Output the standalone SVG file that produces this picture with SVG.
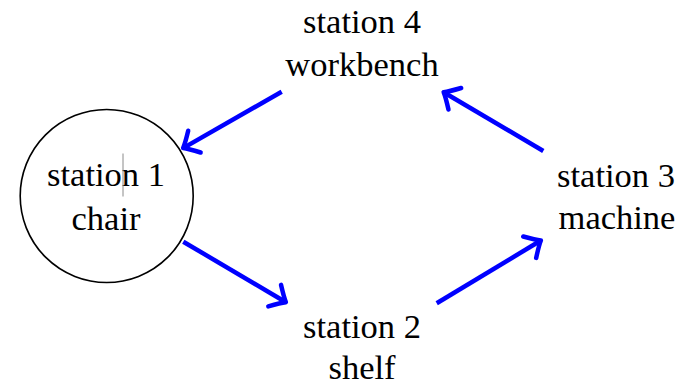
<svg xmlns="http://www.w3.org/2000/svg" width="686" height="387" viewBox="0 0 686 387">
<style>
  text { font-family: "Liberation Serif", "Times New Roman", serif; font-size: 34.5px; fill: #000; text-anchor: middle; }
  .edge { fill: none; stroke: #0000ff; stroke-width: 4.5; stroke-linecap: butt; marker-end: url(#arr); }
</style>
<defs>
  <marker id="arr" markerUnits="userSpaceOnUse" viewBox="-16 -16 20 32" refX="0" refY="0" markerWidth="20" markerHeight="32" orient="auto" overflow="visible">
    <path d="M -12,-12.5 Q -3,-3 1,0 Q -3,3 -12,12.5" fill="none" stroke="#0000ff" stroke-width="4.5" stroke-linecap="round" stroke-linejoin="round"/>
  </marker>
</defs>
<g id="connectors">
  <path class="edge" d="M 281.7,91.7 L 184,147.6"/>
  <path class="edge" d="M 183.3,241.7 L 285,301.7"/>
  <path class="edge" d="M 436.7,303.3 L 540,241"/>
  <path class="edge" d="M 543.3,151 L 444.5,92.7"/>
</g>
<g id="station1">
  <circle cx="106.7" cy="196" r="86.5" fill="none" stroke="#000" stroke-width="1.6"/>
  <text x="106" y="186">station 1</text>
  <text x="106" y="230">chair</text>
  <line x1="123" y1="153.5" x2="123" y2="196.5" stroke="#8a8a8a" stroke-width="1"/>
</g>
<g id="station2">
  <text x="362" y="338">station 2</text>
  <text x="362" y="379">shelf</text>
</g>
<g id="station3">
  <text x="616" y="187">station 3</text>
  <text x="617" y="229">machine</text>
</g>
<g id="station4">
  <text x="362" y="33">station 4</text>
  <text x="362" y="76">workbench</text>
</g>
</svg>
